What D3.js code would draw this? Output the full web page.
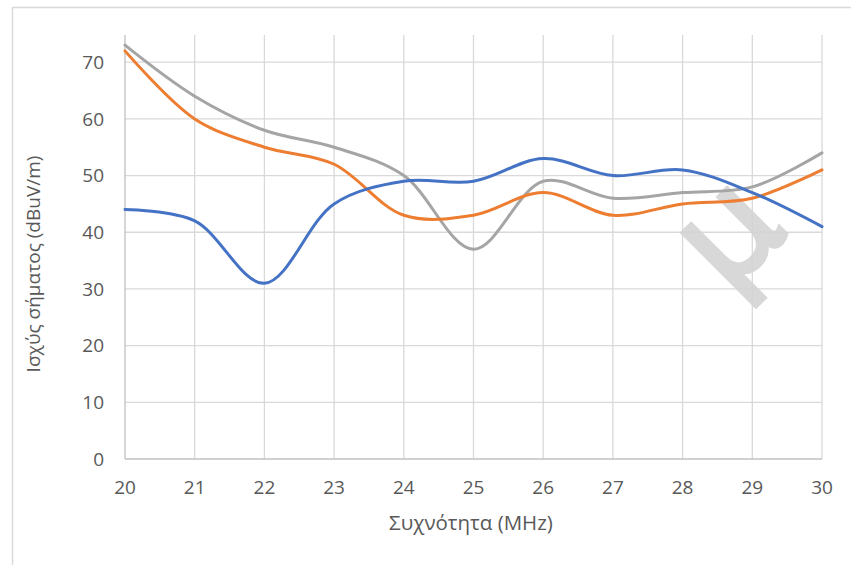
<!DOCTYPE html>
<html lang="el">
<head>
<meta charset="UTF-8">
<title>Ισχύς σήματος</title>
<script src="https://d3js.org/d3.v7.min.js"></script>
<style>
    body { margin: 0; background: #ffffff; overflow: hidden; }
    text { font-family: "Open Sans", "Noto Sans", sans-serif; fill: #595959; }
</style>
</head>
<body>
<div id="chart"></div>
<script>
    const freqs = [20, 21, 22, 23, 24, 25, 26, 27, 28, 29, 30];
    const blueSeries = [44, 42, 31, 45, 49, 49, 53, 50, 51, 47, 41];
    const orangeSeries = [72, 60, 55, 52, 43, 43, 47, 43, 45, 46, 51];
    const greySeries = [73, 64, 58, 55, 50, 37, 49, 46, 47, 48, 54];
    const yTicks = [0, 10, 20, 30, 40, 50, 60, 70];
    const xTicks = [20, 21, 22, 23, 24, 25, 26, 27, 28, 29, 30];

    const W = 851, H = 565;
    const margin = { top: 35, right: 29, bottom: 106, left: 125 };

    const svg = d3.select("#chart").append("svg")
        .attr("width", W)
        .attr("height", H);

    // chart area border (cut off on the right and bottom)
    svg.append("rect")
        .attr("x", 12.5).attr("y", 7.5)
        .attr("width", W + 20).attr("height", H + 20)
        .attr("fill", "none")
        .attr("stroke", "#d9d9d9")
        .attr("stroke-width", 1.5);

    const x = d3.scaleLinear().domain([20, 30]).range([margin.left, W - margin.right]);
    const y = d3.scaleLinear().domain([0, 74.8]).range([H - margin.bottom, margin.top]);

    // gridlines
    svg.append("g").selectAll("line.h")
        .data(yTicks.slice(1))
        .join("line")
        .attr("x1", x(20)).attr("x2", x(30))
        .attr("y1", d => y(d)).attr("y2", d => y(d))
        .attr("stroke", "#d9d9d9").attr("stroke-width", 1.3);
    svg.append("g").selectAll("line.v")
        .data(xTicks.slice(1))
        .join("line")
        .attr("x1", d => x(d)).attr("x2", d => x(d))
        .attr("y1", y(0)).attr("y2", margin.top)
        .attr("stroke", "#d9d9d9").attr("stroke-width", 1.3);

    // axis lines
    svg.append("line")
        .attr("x1", x(20)).attr("x2", x(30)).attr("y1", y(0)).attr("y2", y(0))
        .attr("stroke", "#c0c0c0").attr("stroke-width", 1.3);
    svg.append("line")
        .attr("x1", x(20)).attr("x2", x(20)).attr("y1", y(0)).attr("y2", margin.top)
        .attr("stroke", "#c0c0c0").attr("stroke-width", 1.3);

    // tick labels
    svg.append("g").selectAll("text")
        .data(yTicks)
        .join("text")
        .attr("x", 104)
        .attr("y", d => y(d))
        .attr("dy", "0.36em")
        .attr("text-anchor", "end")
        .style("font-size", "19px")
        .text(d => d);
    svg.append("g").selectAll("text")
        .data(xTicks)
        .join("text")
        .attr("x", d => x(d))
        .attr("y", 487)
        .attr("dy", "0.36em")
        .attr("text-anchor", "middle")
        .style("font-size", "19px")
        .text(d => d);

    // axis titles
    svg.append("text")
        .attr("transform", "translate(33," + 264 + ") rotate(-90)")
        .attr("text-anchor", "middle")
        .attr("dy", "0.36em")
        .style("font-size", "19px")
        .text("Ισχύς σήματος (dBuV/m)");
    svg.append("text")
        .attr("x", 471)
        .attr("y", 523)
        .attr("dy", "0.36em")
        .attr("text-anchor", "middle")
        .style("font-size", "20.5px")
        .text("Συχνότητα (MHz)");

    // watermark
    svg.append("text")
        .attr("transform", "translate(739,244) rotate(-45)")
        .attr("text-anchor", "middle")
        .attr("dy", "0.2em")
        .style("font-size", "138px")
        .style("font-family", "'DejaVu Sans', sans-serif")
        .style("fill", "#d4d4d4")
        .style("stroke", "#d4d4d4")
        .style("stroke-width", 4)
        .style("opacity", 0.9)
        .text("μ");

    const line = d3.line()
        .x((d, i) => x(freqs[i]))
        .y(d => y(d))
        .curve(d3.curveCatmullRom.alpha(0.5));

    const series = [
        { values: greySeries, color: "#a5a5a5" },
        { values: orangeSeries, color: "#ed7d31" },
        { values: blueSeries, color: "#4472c4" }
    ];

    svg.append("g").selectAll("path")
        .data(series)
        .join("path")
        .attr("d", d => line(d.values))
        .attr("fill", "none")
        .attr("stroke", d => d.color)
        .attr("stroke-width", 3)
        .attr("stroke-linecap", "round");
</script>
</body>
</html>
